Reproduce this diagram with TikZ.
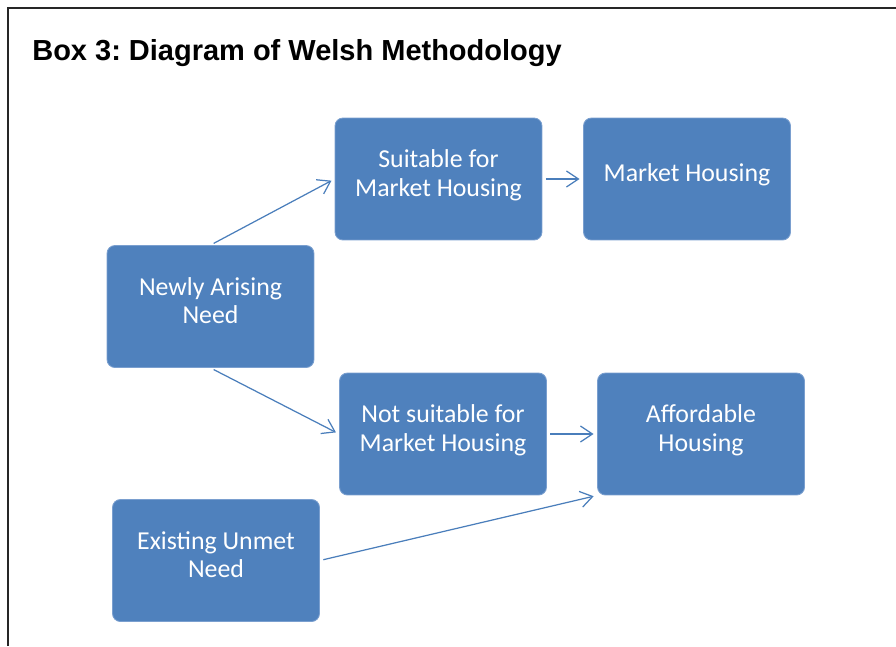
\documentclass[tikz,border=0pt]{standalone}
\usepackage{fontspec}
\setmainfont{Carlito}
\newfontfamily\titlefont{Liberation Sans}
\usetikzlibrary{arrows.meta}
\definecolor{boxblue}{HTML}{4F81BD}
\definecolor{boxedge}{HTML}{7A9FCF}
\definecolor{arrowblue}{HTML}{4A7EBB}
\frenchspacing

\begin{document}
\begin{tikzpicture}[x=0.02cm, y=-0.02cm]

        % Define custom styles for boxes and arrows
        \tikzset{
          stagebox/.style={rectangle, rounded corners=4.5pt, fill=boxblue, draw=boxedge, line width=0.5pt,
            minimum width=4.14cm, minimum height=2.44cm, inner sep=0pt, align=center, text=white,
            text depth=0.24cm, font=\fontsize{14.7}{16.2}\selectfont},
          flow/.style={-{Straight Barb[length=0.24cm, width=0.32cm]}, draw=arrowblue, line width=0.7pt,
            shorten <=2pt, shorten >=2pt}
        }

        \useasboundingbox (0,0) rectangle (896,646);

        % Frame and heading
        \draw[line width=0.8pt, black!85] (8,646) -- (8,8) -- (896,8);
        \node[anchor=base west, inner sep=0pt, font=\titlefont\bfseries\fontsize{16.5}{20}\selectfont] (title) at (32,60) {Box 3: Diagram of Welsh Methodology};

        % Define boxes at their positions
        \node[stagebox] (newly) at (210.5,306.5) {Newly Arising\\Need};
        \node[stagebox] (suitable) at (438.5,179) {Suitable for\\Market Housing};
        \node[stagebox] (market) at (687,179) {Market Housing};
        \node[stagebox] (notsuitable) at (443,434) {Not suitable for\\Market Housing};
        \node[stagebox] (affordable) at (701,434) {Affordable\\Housing};
        \node[stagebox] (existing) at (216,560.5) {Existing Unmet\\Need};

        % Draw the flow arrows
        \draw[flow] (newly.north) -- (suitable.west);
        \draw[flow] (suitable.east) -- (market.west);
        \draw[flow] (newly.south) -- (notsuitable.west);
        \draw[flow] (notsuitable.east) -- (affordable.west);
        \draw[flow] (existing.east) -- (affordable.south west);

\end{tikzpicture}
\end{document}
